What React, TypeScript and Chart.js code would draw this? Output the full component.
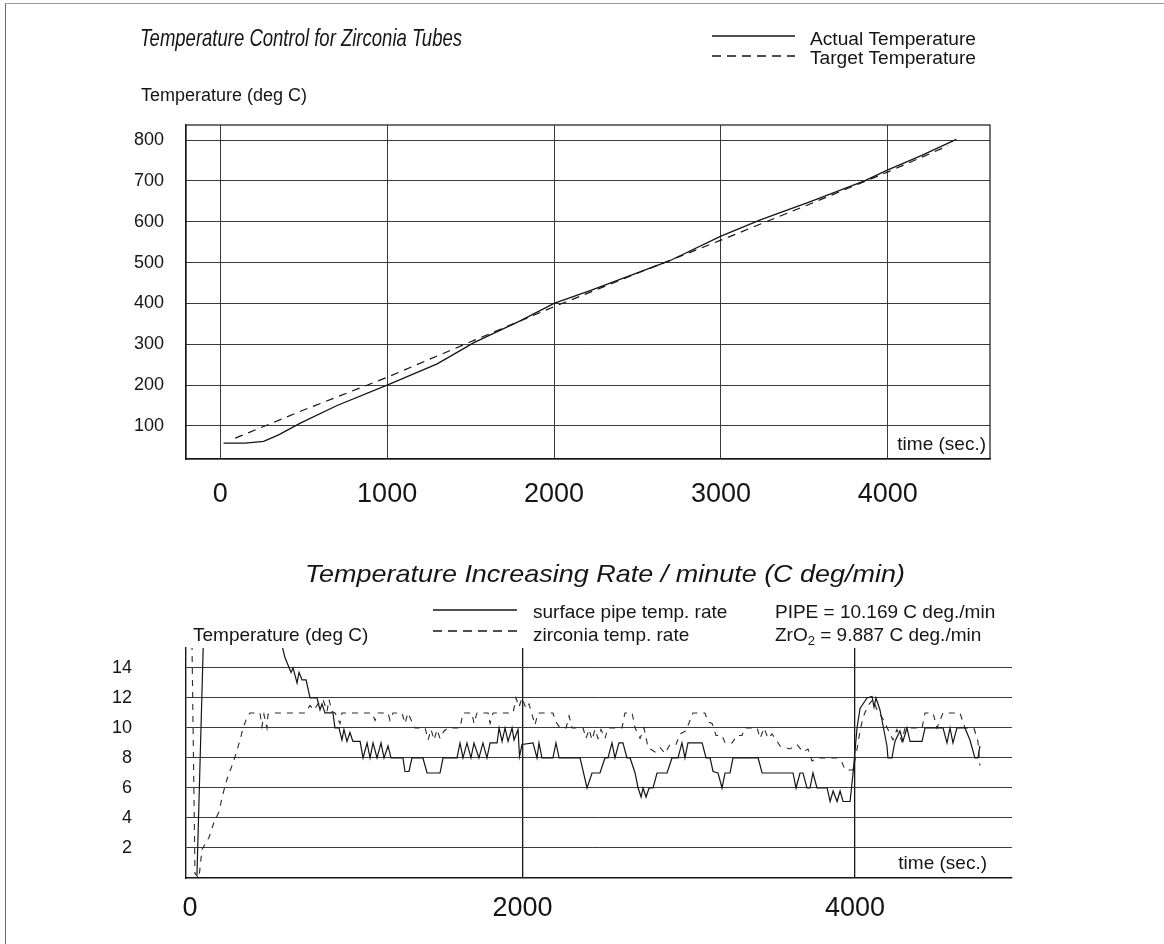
import React, { useEffect, useRef } from "react";
import { Chart, registerables } from "chart.js";

Chart.register(...registerables);

// ---------- Data: top panel (temperature vs time) ----------
const TOP_X_TICKS = [0, 1000, 2000, 3000, 4000];
const TOP_Y_TICKS = [100, 200, 300, 400, 500, 600, 700, 800];

// [time (s), temperature (deg C)]
const ACTUAL_TEMP: [number, number][] = [
  [20, 58], [150, 58], [260, 62], [350, 78], [480, 107], [700, 150], [1000, 200],
  [1300, 252], [1520, 304], [1800, 358], [2000, 400], [2220, 432], [2690, 504],
  [3000, 565], [3240, 605], [3540, 650], [3860, 700], [4000, 727], [4200, 762], [4410, 802],
];
const TARGET_TEMP: [number, number][] = [
  [90, 70], [500, 139], [1000, 219], [1500, 306], [2000, 392], [2500, 474],
  [3000, 555], [3500, 638], [4000, 722], [4360, 786],
];

// ---------- Data: bottom panel (rate, C deg/min) ----------
const RATE_X_TICKS = [0, 2000, 4000];
const RATE_Y_TICKS = [2, 4, 6, 8, 10, 12, 14];

// [time (s), rate]
const PIPE_RATE: [number, number][] = [
  [42, 0.2], [81, 16], [250, 19], [520, 17], [571, 14.7], [608, 13.7], [620, 14.0], [644, 13.0],
  [656, 13.7], [674, 13.2], [698, 13.2], [722, 12.0], [764, 12.0], [782, 11.2], [794, 11.6],
  [812, 11.0], [860, 11.0], [872, 10.0], [896, 10.0], [914, 9.2], [926, 9.9], [944, 9.1],
  [962, 9.7], [980, 9.1], [1023, 9.1], [1041, 8.0], [1065, 9.0], [1083, 8.0], [1101, 9.0],
  [1125, 8.0], [1149, 9.0], [1167, 8.0], [1191, 8.8], [1209, 8.0], [1281, 8.0], [1293, 7.1],
  [1317, 7.1], [1335, 8.0], [1401, 8.0], [1426, 7.0], [1504, 7.0], [1522, 8.0], [1606, 8.0],
  [1624, 9], [1642, 8], [1666, 9], [1690, 8], [1708, 9], [1738, 8], [1762, 9], [1786, 8],
  [1805, 9], [1847, 9], [1859, 10], [1877, 9.1], [1895, 10], [1913, 9.1], [1937, 10],
  [1949, 9.2], [1973, 9.9], [1982, 8.1], [1997, 8.9], [2063, 9.0], [2087, 8.0], [2099, 9.0],
  [2117, 8.0], [2183, 8], [2201, 9], [2220, 8], [2346, 8], [2388, 6.0], [2418, 7], [2466, 7],
  [2496, 8], [2514, 8], [2538, 9], [2556, 8], [2580, 9], [2604, 9], [2628, 8], [2647, 8],
  [2677, 7], [2695, 6], [2713, 5.4], [2725, 6], [2743, 5.4], [2761, 6], [2785, 6], [2809, 7],
  [2869, 7], [2899, 8], [2935, 8], [2959, 9], [2977, 8], [2995, 9], [3080, 9], [3104, 8],
  [3128, 8], [3146, 7.1], [3176, 7], [3200, 6], [3218, 7], [3248, 7], [3266, 8], [3417, 8],
  [3441, 7], [3627, 7], [3645, 6], [3669, 7], [3687, 7], [3711, 6], [3729, 6], [3747, 7],
  [3771, 6], [3832, 6], [3850, 5.1], [3868, 5.8], [3892, 5.1], [3910, 5.8], [3928, 5.1],
  [3970, 5.1], [3988, 7], [4012, 10], [4030, 11.3], [4072, 12], [4102, 12.1], [4114, 11.4],
  [4126, 12], [4150, 11.2], [4192, 8.8], [4198, 8], [4222, 8], [4240, 9.1], [4270, 9.8],
  [4288, 9.1], [4312, 10], [4331, 9.1], [4403, 9.1], [4421, 10], [4529, 10], [4553, 9],
  [4571, 10], [4589, 9], [4613, 10], [4661, 10], [4691, 9.2], [4721, 8], [4739, 8], [4751, 8.8],
];

const ZRO2_RATE: [number, number][] = [
  [12, 15.6], [30, 0.3], [54, 0], [72, 1.9], [114, 2.7], [144, 3.7], [174, 4.4], [198, 5.6],
  [223, 6.6], [253, 7.5], [277, 8.3], [301, 9.2], [319, 10], [343, 10.7], [361, 11], [421, 11],
  [433, 10.1], [445, 10.9], [463, 10], [469, 10.9], [499, 11], [692, 11], [722, 11.5],
  [746, 11.2], [770, 11.6], [800, 11.9], [824, 11.1], [836, 11.9], [854, 11.1], [872, 11],
  [902, 10.3], [914, 11], [1095, 11], [1113, 10.5], [1131, 11], [1191, 11], [1203, 10.5],
  [1221, 11], [1275, 11], [1293, 10.3], [1311, 11], [1335, 10.4], [1353, 10], [1414, 10],
  [1432, 9.2], [1450, 9.9], [1468, 9.2], [1486, 9.9], [1504, 9.3], [1528, 9.8], [1552, 10],
  [1624, 10], [1642, 11], [1696, 11], [1708, 10.3], [1726, 11], [1793, 11], [1805, 10.3],
  [1823, 11], [1943, 11], [1961, 12], [1979, 11.4], [1997, 12], [2021, 11.3], [2039, 11.6],
  [2075, 10.2], [2093, 11], [2183, 11], [2201, 10.4], [2226, 10], [2262, 10], [2280, 10.8],
  [2298, 10], [2364, 10], [2382, 9.3], [2400, 9.9], [2418, 9.2], [2436, 9.9], [2454, 9.3],
  [2472, 9.9], [2496, 9.3], [2514, 10], [2598, 10], [2616, 11], [2659, 11], [2677, 10],
  [2707, 9.3], [2731, 10], [2755, 8.7], [2797, 8.4], [2827, 8.7], [2857, 8.3], [2887, 8.9],
  [2923, 8.9], [2947, 9.6], [2983, 9.8], [3007, 10.5], [3025, 11], [3097, 11], [3116, 10.4],
  [3140, 10.3], [3164, 9.5], [3200, 9.5], [3218, 9], [3260, 9], [3290, 9.5], [3320, 9.5],
  [3338, 10], [3411, 10], [3429, 9.3], [3453, 10], [3477, 9.3], [3501, 9.6], [3549, 8.8],
  [3609, 8.6], [3651, 8.9], [3687, 8.4], [3717, 8.6], [3741, 7.8], [3777, 8], [3892, 8],
  [3922, 7.7], [3940, 7.2], [3988, 7.2], [4006, 8.2], [4030, 9.8], [4048, 10.7], [4078, 11.5],
  [4108, 11.9], [4132, 11.2], [4168, 10.6], [4198, 9.9], [4228, 9.2], [4252, 9.9], [4282, 9.1],
  [4300, 10], [4403, 10], [4421, 11], [4469, 11], [4493, 10], [4529, 11], [4631, 11],
  [4661, 10], [4715, 10], [4739, 9.1], [4751, 7.5],
];

const FONT = '"Liberation Sans", Arial, Helvetica, sans-serif';
const INK = "#151515";
const GRID = "#3a3a3a";

function drawText(
  ctx: CanvasRenderingContext2D,
  text: string,
  x: number,
  y: number,
  font: string,
  width?: number,
  align: CanvasTextAlign = "left"
) {
  ctx.save();
  ctx.font = font;
  ctx.fillStyle = INK;
  ctx.textBaseline = "alphabetic";
  ctx.textAlign = align;
  const w = ctx.measureText(text).width;
  const sx = width ? width / w : 1;
  ctx.translate(x, y);
  ctx.scale(sx, 1);
  ctx.fillText(text, 0, 0);
  ctx.restore();
}

function legendLine(ctx: CanvasRenderingContext2D, x1: number, x2: number, y: number, dashed: boolean) {
  ctx.save();
  ctx.strokeStyle = INK;
  ctx.lineWidth = 1.5;
  ctx.setLineDash(dashed ? [9, 6] : []);
  ctx.beginPath();
  ctx.moveTo(x1, y);
  ctx.lineTo(x2, y);
  ctx.stroke();
  ctx.restore();
}

const toPoints = (arr: [number, number][]) => arr.map(([x, y]) => ({ x, y }));

function TopChart() {
  const ref = useRef<HTMLCanvasElement | null>(null);
  useEffect(() => {
    if (!ref.current) return;
    const annotations = {
      id: "topText",
      afterDraw(chart: any) {
        const { ctx, chartArea } = chart;
        ctx.save();
        ctx.strokeStyle = INK;
        ctx.lineWidth = 1.2;
        ctx.strokeRect(chartArea.left, chartArea.top, chartArea.right - chartArea.left, chartArea.bottom - chartArea.top);
        ctx.restore();
        drawText(ctx, "Temperature Control for Zirconia Tubes", 140, 46, `italic 24px ${FONT}`, 322);
        legendLine(ctx, 712, 795, 36, false);
        drawText(ctx, "Actual Temperature", 810, 45, `18px ${FONT}`, 166);
        legendLine(ctx, 712, 795, 56, true);
        drawText(ctx, "Target Temperature", 810, 64, `18px ${FONT}`, 166);
        drawText(ctx, "Temperature (deg C)", 141, 101, `18px ${FONT}`);
        drawText(ctx, "time (sec.)", chartArea.right - 4, chartArea.bottom - 9, `19px ${FONT}`, undefined, "right");
      },
    };
    const chart = new Chart(ref.current, {
      type: "line",
      data: {
        datasets: [
          {
            label: "Actual Temperature",
            data: toPoints(ACTUAL_TEMP),
            borderColor: INK,
            borderWidth: 1.3,
            pointRadius: 0,
            tension: 0,
          },
          {
            label: "Target Temperature",
            data: toPoints(TARGET_TEMP),
            borderColor: INK,
            borderWidth: 1.2,
            borderDash: [8, 6],
            pointRadius: 0,
            tension: 0,
          },
        ],
      },
      options: {
        animation: false,
        responsive: false,
        layout: { padding: { left: 0, top: 125, right: 174, bottom: 0 } },
        plugins: { legend: { display: false }, tooltip: { enabled: false }, title: { display: false } },
        scales: {
          x: {
            type: "linear",
            min: -205,
            max: 4612,
            afterBuildTicks: (s: any) => {
              s.ticks = TOP_X_TICKS.map((v) => ({ value: v }));
            },
            afterFit: (s: any) => {
              s.height = 71;
            },
            grid: { color: GRID, lineWidth: 1, drawTicks: false },
            border: { display: true, color: INK, width: 1.2 },
            ticks: {
              padding: 19,
              autoSkip: false,
              maxRotation: 0,
              color: INK,
              font: { family: FONT, size: 27 },
              callback: (v: any) => String(v),
            },
          },
          y: {
            type: "linear",
            min: 19,
            max: 837,
            afterBuildTicks: (s: any) => {
              s.ticks = TOP_Y_TICKS.map((v) => ({ value: v }));
            },
            afterFit: (s: any) => {
              s.width = 186;
            },
            grid: { color: GRID, lineWidth: 1, drawTicks: false },
            border: { display: true, color: INK, width: 1.2 },
            ticks: {
              padding: 22,
              color: INK,
              font: { family: FONT, size: 18 },
              callback: (v: any) => String(v),
            },
          },
        },
      },
      plugins: [annotations],
    } as any);
    return () => chart.destroy();
  }, []);
  return <canvas ref={ref} width={1164} height={530} style={{ position: "absolute", left: 0, top: 0 }} />;
}

function RateChart() {
  const ref = useRef<HTMLCanvasElement | null>(null);
  useEffect(() => {
    if (!ref.current) return;
    const annotations = {
      id: "rateText",
      afterDraw(chart: any) {
        const { ctx, chartArea } = chart;
        drawText(ctx, "Temperature Increasing Rate / minute (C deg/min)", 305, 52, `italic 24px ${FONT}`, 600);
        legendLine(ctx, 433, 517, 80, false);
        drawText(ctx, "surface pipe temp. rate", 533, 88, `19px ${FONT}`);
        legendLine(ctx, 433, 517, 101, true);
        drawText(ctx, "zirconia temp. rate", 533, 111, `19px ${FONT}`);
        drawText(ctx, "PIPE = 10.169 C deg./min", 775, 88, `19px ${FONT}`);
        // ZrO2 with subscript
        ctx.save();
        ctx.fillStyle = INK;
        ctx.textBaseline = "alphabetic";
        ctx.font = `19px ${FONT}`;
        let x = 775;
        ctx.fillText("ZrO", x, 111);
        x += ctx.measureText("ZrO").width;
        ctx.font = `13px ${FONT}`;
        ctx.fillText("2", x, 115);
        x += ctx.measureText("2").width;
        ctx.font = `19px ${FONT}`;
        ctx.fillText(" = 9.887 C deg./min", x, 111);
        ctx.restore();
        drawText(ctx, "Temperature (deg C)", 193, 111, `19px ${FONT}`);
        drawText(ctx, "time (sec.)", 987, chartArea.bottom - 9, `19px ${FONT}`, undefined, "right");
      },
    };
    const chart = new Chart(ref.current, {
      type: "line",
      data: {
        datasets: [
          {
            label: "surface pipe temp. rate",
            data: toPoints(PIPE_RATE),
            borderColor: INK,
            borderWidth: 1.2,
            pointRadius: 0,
            tension: 0,
          },
          {
            label: "zirconia temp. rate",
            data: toPoints(ZRO2_RATE),
            borderColor: "#2a2a2a",
            borderWidth: 1.1,
            borderDash: [6, 6],
            pointRadius: 0,
            tension: 0,
          },
        ],
      },
      options: {
        animation: false,
        responsive: false,
        layout: { padding: { left: 0, top: 118, right: 152, bottom: 0 } },
        plugins: { legend: { display: false }, tooltip: { enabled: false }, title: { display: false } },
        scales: {
          x: {
            type: "linear",
            min: -24,
            max: 4944,
            afterBuildTicks: (s: any) => {
              s.ticks = RATE_X_TICKS.map((v) => ({ value: v }));
            },
            afterFit: (s: any) => {
              s.height = 66;
            },
            grid: {
              color: (c: any) => (c.tick && c.tick.value === 0 ? "rgba(0,0,0,0)" : INK),
              lineWidth: 1.3,
              drawTicks: false,
            },
            border: { display: true, color: INK, width: 1.4 },
            ticks: {
              padding: 14,
              autoSkip: false,
              maxRotation: 0,
              color: INK,
              font: { family: FONT, size: 27 },
              callback: (v: any) => String(v),
            },
          },
          y: {
            type: "linear",
            min: 0,
            max: 15.33,
            afterBuildTicks: (s: any) => {
              s.ticks = RATE_Y_TICKS.map((v) => ({ value: v }));
            },
            afterFit: (s: any) => {
              s.width = 186;
            },
            grid: { color: GRID, lineWidth: 1, drawTicks: false },
            border: { display: true, color: INK, width: 1.4 },
            ticks: {
              padding: 54,
              color: INK,
              font: { family: FONT, size: 18 },
              callback: (v: any) => String(v),
            },
          },
        },
      },
      plugins: [annotations],
    } as any);
    return () => chart.destroy();
  }, []);
  return <canvas ref={ref} width={1164} height={414} style={{ position: "absolute", left: 0, top: 530 }} />;
}

export default function App() {
  return (
    <div
      style={{
        position: "fixed",
        left: 0,
        top: 0,
        width: 1164,
        height: 944,
        background: "#ffffff",
        overflow: "hidden",
      }}
    >
      <div
        style={{
          position: "absolute",
          left: 5,
          top: 3,
          right: 0,
          bottom: 0,
          borderLeft: "1.5px solid #6a6a6a",
          borderTop: "1px solid #9a9a9a",
        }}
      />
      <TopChart />
      <RateChart />
    </div>
  );
}
